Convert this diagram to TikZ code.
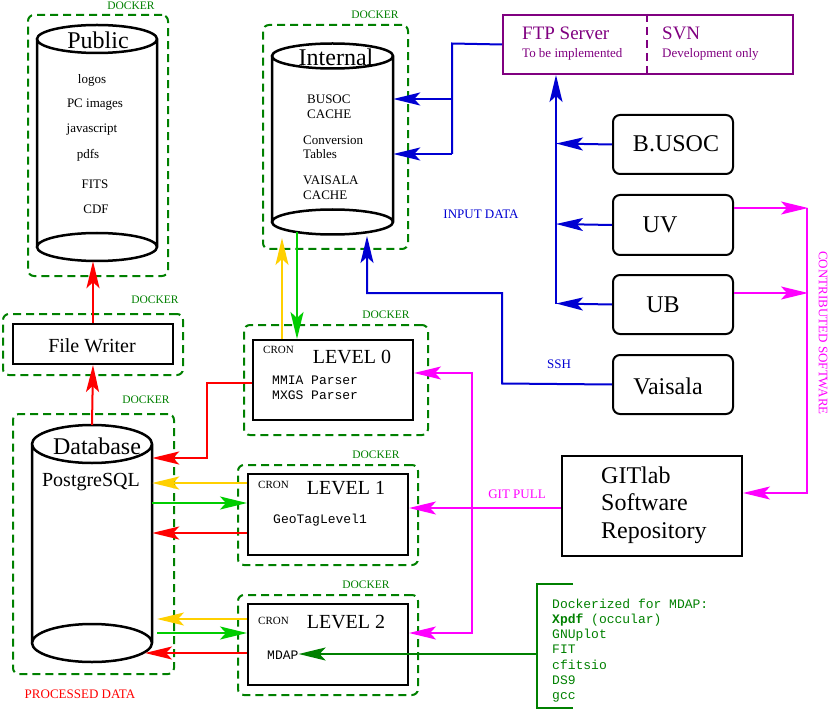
\documentclass[tikz,border=0pt]{standalone}
\usepackage{fontspec}
\setmainfont{Liberation Serif}
\setmonofont{Liberation Mono}
\usetikzlibrary{arrows.meta,calc}
\definecolor{dkgreen}{RGB}{0,128,0}
\definecolor{brgreen}{RGB}{0,205,0}
\definecolor{yel}{RGB}{255,208,0}
\definecolor{ablue}{RGB}{0,0,210}
\definecolor{mag}{RGB}{255,0,255}
\definecolor{purp}{RGB}{128,0,128}
\newcommand\fsz[1]{\fontsize{#1}{#1}\selectfont}
\newcommand\drawcyl[5]{% cx ytop ybot rx ry
  \draw[cylline] (#1-#4,#2) -- (#1-#4,#3) (#1+#4,#2) -- (#1+#4,#3)
    (#1,#2) ellipse [x radius=#4pt, y radius=#5pt]
    (#1,#3) ellipse [x radius=#4pt, y radius=#5pt];}
\begin{document}
\begin{tikzpicture}[x=1pt,y=-1pt,
  >={Stealth[length=27pt,width=13pt,inset=6pt]},
  dock/.style={draw=dkgreen, line width=2pt, dash pattern=on 8pt off 5pt, rounded corners=6pt, anchor=north west, inner sep=0},
  docklbl/.style={text=dkgreen, font=\fsz{11.5}, inner sep=0},
  blk/.style={draw, line width=2pt, anchor=north west, inner sep=0},
  rblk/.style={blk, rounded corners=7pt},
  conn/.style={line width=2pt},
  cylline/.style={line width=2.5pt},
  hold/.style={inner sep=0, minimum width=#1},
  txt/.style={inner sep=0},
  lbl/.style={inner sep=0, font=\fsz{13}},
  mono/.style={inner sep=0, font=\ttfamily\fsz{13}, anchor=west},
]
\useasboundingbox (0,0) rectangle (832,711);

% ---------- docker frames ----------
\node[dock, minimum width=140pt, minimum height=261pt] (dpub) at (27,14) {};
\node[docklbl] (dlpub) at (131,6) {DOCKER};
\node[dock, minimum width=145pt, minimum height=224pt] (dint) at (262,24) {};
\node[docklbl] (dlint) at (375,15) {DOCKER};
\node[dock, minimum width=180pt, minimum height=61pt] (dfw) at (2,313) {};
\node[docklbl] (dlfw) at (155,300) {DOCKER};
\node[dock, minimum width=161pt, minimum height=260pt] (ddb) at (12,413) {};
\node[docklbl] (dldb) at (146,400) {DOCKER};
\node[dock, minimum width=184pt, minimum height=110pt] (dl0) at (243,324) {};
\node[docklbl] (dll0) at (386,315) {DOCKER};
\node[dock, minimum width=180pt, minimum height=100pt] (dl1) at (237,464) {};
\node[docklbl] (dll1) at (376,455) {DOCKER};
\node[dock, minimum width=180pt, minimum height=100pt] (dl2) at (237,594) {};
\node[docklbl] (dll2) at (366,585) {DOCKER};

% ---------- cylinders ----------
\drawcyl{97}{39}{247}{60}{14}
\node[hold=120pt, minimum height=236pt] (pub) at (97,143) {};
\node[txt, font=\fsz{24}] (pubt) at (98,40) {Public};
\node[txt, font=\fsz{13}] (p1) at (92,80) {logos};
\node[txt, font=\fsz{13}] (p2) at (95,105) {PC images};
\node[txt, font=\fsz{13}] (p3) at (92,130) {javascript};
\node[txt, font=\fsz{13}] (p4) at (88,155) {pdfs};
\node[txt, font=\fsz{13}] (p5) at (95,184) {FITS};
\node[txt, font=\fsz{13}] (p6) at (96,209) {CDF};

\drawcyl{332.5}{56}{222}{60.5}{12.5}
\node[hold=121pt, minimum height=191pt] (int) at (332.5,139) {};
\node[txt, font=\fsz{24}] (intt) at (336,57) {Internal};
\node[txt, font=\fsz{13}, anchor=west] (i1) at (307,99) {BUSOC};
\node[txt, font=\fsz{13}, anchor=west] (i2) at (307,114) {CACHE};
\node[txt, font=\fsz{13}, anchor=west] (i3) at (303,140) {Conversion};
\node[txt, font=\fsz{13}, anchor=west] (i4) at (303,154) {Tables};
\node[txt, font=\fsz{13}, anchor=west] (i5) at (303,180) {VAISALA};
\node[txt, font=\fsz{13}, anchor=west] (i6) at (303,195) {CACHE};

\drawcyl{92}{444}{643}{60}{19}
\node[hold=120pt, minimum height=237pt] (db) at (92,543.5) {};
\node[txt, font=\fsz{24}] (dbt) at (97,446) {Database};
\node[txt, font=\fsz{20}] (dbs) at (91,482) {PostgreSQL};

% ---------- boxes ----------
\node[blk, minimum width=160pt, minimum height=40pt] (fw) at (12,323) {};
\node[txt, font=\fsz{20}] (fwt) at (92,346) {File Writer};

\node[blk, draw=purp, minimum width=290pt, minimum height=59pt] (ftp) at (502,14) {};
\draw[purp, line width=2pt, dash pattern=on 8pt off 5pt] (ftp.north -| 647,0) -- (ftp.south -| 647,0);
\node[txt, text=purp, font=\fsz{19}, anchor=west] (ftpt) at (522,33) {FTP Server};
\node[txt, text=purp, font=\fsz{13}, anchor=west] (ftps) at (522,54) {To be implemented};
\node[txt, text=purp, font=\fsz{19}, anchor=west] (svnt) at (662,33) {SVN};
\node[txt, text=purp, font=\fsz{13}, anchor=west] (svns) at (662,54) {Development only};

\node[rblk, minimum width=120pt, minimum height=59pt] (busoc) at (612,114) {};
\node[txt, font=\fsz{24}] at (676,144) {B.USOC};
\node[rblk, minimum width=120pt, minimum height=60pt] (uv) at (612,194) {};
\node[txt, font=\fsz{24}] at (660,225) {UV};
\node[rblk, minimum width=120pt, minimum height=59pt] (ub) at (612,274) {};
\node[txt, font=\fsz{24}] at (663,305) {UB};
\node[rblk, minimum width=120pt, minimum height=59pt] (vais) at (612,354) {};
\node[txt, font=\fsz{24}] at (668,386) {Vaisala};

\node[blk, minimum width=180pt, minimum height=100pt] (git) at (561,455) {};
\node[txt, align=left, anchor=west, font=\fontsize{24}{27.5}\selectfont] (gitt) at (601,505) {GITlab\\Software\\Repository};

\node[blk, minimum width=160pt, minimum height=80pt] (l0) at (252,339) {};
\node[txt, font=\fsz{11}, anchor=west] at (263,350) {CRON};
\node[txt, font=\fsz{20}] at (352,357) {LEVEL 0};
\node[mono] at (272,380) {MMIA Parser};
\node[mono] at (272,395) {MXGS Parser};

\node[blk, minimum width=160pt, minimum height=81pt] (l1) at (247,473) {};
\node[txt, font=\fsz{11}, anchor=west] at (258,485) {CRON};
\node[txt, font=\fsz{20}] at (346,488) {LEVEL 1};
\node[mono] at (273,520) {GeoTagLevel1};

\node[blk, minimum width=160pt, minimum height=81pt] (l2) at (247,603) {};
\node[txt, font=\fsz{11}, anchor=west] at (258,621) {CRON};
\node[txt, font=\fsz{20}] at (346,622) {LEVEL 2};
\node[mono] (mdap) at (267,655) {MDAP};

% ---------- Dockerized bracket ----------
\coordinate (brt) at (573,584);
\coordinate (brb) at (573,708);
\coordinate (brm) at (537,654);
\draw[dkgreen, line width=2pt] (brt) -- (537,584) -- (537,708) -- (brb);
\node[mono, text=dkgreen, align=left, font=\ttfamily\fontsize{13}{15.2}\selectfont] (dock) at (552,650.5)
  {Dockerized for MDAP:\\\textbf{Xpdf} (occular)\\GNUplot\\FIT\\cfitsio\\DS9\\gcc};

% ---------- labels ----------
\node[lbl, text=ablue] (inlbl) at (481,214) {INPUT DATA};
\node[lbl, text=ablue] (sshlbl) at (559,364) {SSH};
\node[lbl, text=mag] (gitlbl) at (517,494) {GIT PULL};
\node[lbl, text=mag, rotate=-90] (contlbl) at (823,333) {CONTRIBUTED SOFTWARE};
\node[lbl, text=red] (proclbl) at (80,694) {PROCESSED DATA};

% ---------- connectors ----------
% red upward chain
\draw[conn, red, ->] (fw.north) -- (fw.north |- pub.south);
\draw[conn, red, ->] (db.north) -- (fw.south);
% Internal <-> Level 0
\draw[conn, yel, ->] (l0.north -| 282,0) -- (282,238);
\draw[conn, brgreen, ->] (297,232) -- (l0.north -| 297,0);
% SSH Vaisala -> Internal
\draw[conn, ablue, ->] (vais.west) -- (502,383.5) -- (502,293) -- (367,293) -- (367,236);
% FTP -> Internal
\draw[conn, ablue] (ftp.west) -- (452,43.5) -- (452,154);
\draw[conn, ablue, ->] (452,99) -- (int.east |- 0,99);
\draw[conn, ablue, ->] (452,154) -- (int.east |- 0,154);
% sources -> FTP
\draw[conn, ablue, ->] (556,303.5) -- (ftp.south -| 556,0);
\draw[conn, ablue, ->] (busoc.west) -- (556,143.5);
\draw[conn, ablue, ->] (uv.west) -- (556,224);
\draw[conn, ablue, ->] (ub.west) -- (556,303.5);
% contributed software
\draw[conn, mag, ->] (uv.east |- 0,208) -- (808,208);
\draw[conn, mag, ->] (ub.east |- 0,293) -- (808,293);
\draw[conn, mag, ->] (807,208) -- (807,493) -- (git.east |- 0,493);
% git pull
\draw[conn, mag, ->] (git.west |- 0,508) -- (l1.east |- 0,508);
\draw[conn, mag, ->] (472,508) -- (472,373) -- (l0.east |- 0,373);
\draw[conn, mag, ->] (472,508) -- (472,633) -- (l2.east |- 0,633);
% levels -> database
\draw[conn, red, ->] (l0.west |- 0,383) -- (207,383) -- (207,458) -- (db.east |- 0,458);
\draw[conn, yel, ->] (l1.west |- 0,483) -- (db.east |- 0,483);
\draw[conn, brgreen, ->] (db.east |- 0,503) -- (l1.west |- 0,503);
\draw[conn, red, ->] (l1.west |- 0,533) -- (db.east |- 0,533);
\draw[conn, yel, ->] (l2.west |- 0,619) -- (157,619);
\draw[conn, brgreen, ->] (157,633) -- (l2.west |- 0,633);
\draw[conn, red, ->] (l2.west |- 0,653) -- (145,653);
% MDAP
\draw[conn, dkgreen, ->] (brm) -- (mdap.east |- brm);
\end{tikzpicture}
\end{document}
